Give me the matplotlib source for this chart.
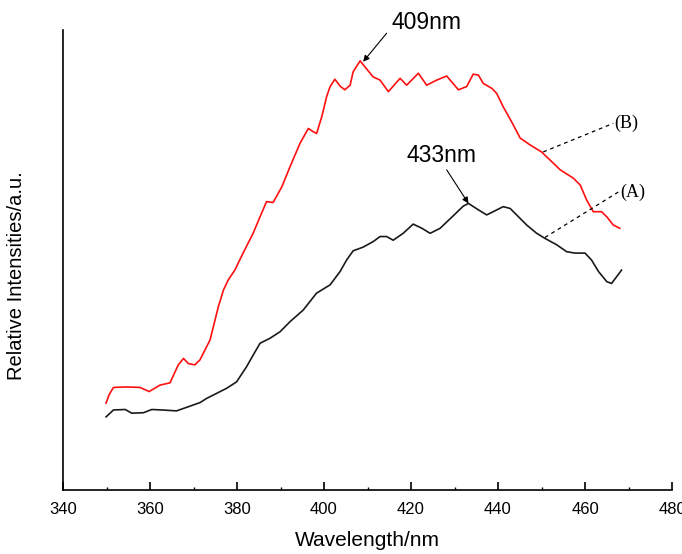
import matplotlib
matplotlib.use("Agg")
import matplotlib.pyplot as plt
from matplotlib.ticker import MultipleLocator

# curve (B), red - emission spectrum
wl_b = [349.9, 350.6, 351.6, 354.7, 357.7, 359.8, 362.3, 364.6, 366.5, 367.7,
        368.8, 370.3, 371.5, 372.6, 373.8, 375.7, 376.9, 378.0, 379.5, 381.4,
        383.7, 385.3, 386.8, 388.3, 390.3, 392.2, 394.5, 396.4, 397.5, 398.3,
        399.5, 400.6, 401.4, 402.5, 403.7, 404.8, 406.0, 406.7, 408.3, 409.4,
        411.3, 412.9, 414.8, 417.5, 419.0, 421.7, 423.6, 425.9, 428.2, 430.9,
        432.8, 434.3, 435.5, 436.6, 438.6, 439.7, 441.2, 443.1, 445.1, 447.4,
        450.0, 452.0, 454.3, 457.3, 458.9, 460.4, 461.9, 463.8, 465.0, 466.5,
        468.0]
int_b = [18.9, 20.7, 22.3, 22.4, 22.3, 21.4, 22.8, 23.3, 27.2, 28.6,
         27.5, 27.2, 28.3, 30.4, 32.6, 39.8, 43.5, 45.7, 47.8, 51.5,
         55.8, 59.4, 62.7, 62.5, 65.9, 70.3, 75.4, 78.6, 77.9, 77.5,
         81.2, 85.5, 87.7, 89.3, 87.8, 87.0, 88.0, 90.9, 93.3, 92.0,
         89.8, 89.1, 86.6, 89.5, 88.0, 90.6, 88.0, 89.1, 90.0, 87.0,
         87.7, 90.4, 90.2, 88.4, 87.3, 86.2, 83.3, 80.1, 76.5, 75.0,
         73.5, 71.7, 69.6, 67.8, 66.3, 63.0, 60.5, 60.5, 59.4, 57.6,
         56.9]

# curve (A), black
wl_a = [349.9, 351.6, 354.3, 355.8, 358.5, 360.4, 362.7, 366.1, 368.8, 371.5,
        373.0, 375.3, 377.6, 379.9, 382.2, 383.7, 385.3, 387.6, 389.9, 392.2,
        395.2, 398.3, 401.4, 403.7, 405.2, 406.7, 409.0, 411.3, 412.9, 414.4,
        415.9, 418.2, 420.5, 422.5, 424.4, 426.7, 429.7, 432.0, 433.2, 435.5,
        437.4, 438.9, 441.2, 442.8, 444.7, 446.6, 448.9, 450.8, 453.5, 455.8,
        457.7, 460.0, 461.5, 463.1, 465.0, 466.1, 467.3, 468.4]
int_a = [15.9, 17.4, 17.5, 16.7, 16.8, 17.5, 17.4, 17.2, 18.1, 19.0,
         19.9, 21.0, 22.1, 23.5, 26.8, 29.3, 31.9, 33.0, 34.4, 36.6,
         39.1, 42.8, 44.6, 47.5, 50.0, 52.0, 52.8, 54.0, 55.1, 55.1,
         54.3, 55.8, 57.8, 56.9, 55.8, 56.9, 59.6, 61.7, 62.3, 60.9,
         59.8, 60.5, 61.6, 61.2, 59.4, 57.6, 55.8, 54.7, 53.3, 51.8,
         51.5, 51.5, 50.0, 47.5, 45.3, 44.9, 46.4, 47.8]

# peak annotations: label, text pos, arrow tail, arrow head
peaks = [("409nm", (423.5, 101.7), (414.4, 99.3), (409.0, 93.1)),
         ("433nm", (426.9, 72.8), (428.2, 69.6), (433.2, 62.3))]
# curve tags: label, line start on curve, line end at label
tags = [("(B)", (450.4, 73.5), (466.5, 79.7)),
        ("(A)", (450.8, 54.9), (467.7, 64.8))]

plt.rcParams["font.family"] = ["Liberation Sans", "DejaVu Sans"]

fig = plt.figure(figsize=(6.82, 5.54), dpi=100)
ax = fig.add_axes([63 / 682, 64 / 554, 609 / 682, 460 / 554])

ax.plot(wl_b, int_b, color="#ff1010", lw=1.2)
ax.plot(wl_a, int_a, color="#1a1a1a", lw=1.2)

for label, txt, tail, head in peaks:
    ax.annotate("", xy=head, xytext=tail, annotation_clip=False,
                arrowprops=dict(arrowstyle="-|>", color="black", lw=0.8,
                                mutation_scale=9, shrinkA=0, shrinkB=0))
    ax.text(*txt, label, fontsize=16.5, ha="center", va="center", clip_on=False)

for label, start, end in tags:
    ax.plot([start[0], end[0]], [start[1], end[1]], color="black", lw=0.9,
            ls=(0, (3, 3)))
    ax.text(end[0] + 0.3, end[1], label, fontsize=13, family="Liberation Serif",
            ha="left", va="center")

ax.set_xlim(340, 480)
ax.set_ylim(0, 100)
ax.xaxis.set_major_locator(MultipleLocator(20))
ax.xaxis.set_minor_locator(MultipleLocator(10))
ax.tick_params(axis="x", which="major", direction="in", length=6, width=1.2,
               labelsize=12, pad=9)
ax.tick_params(axis="x", which="minor", direction="in", length=2, width=1.0)
ax.set_yticks([])

for side in ("top", "right"):
    ax.spines[side].set_visible(False)
for side in ("left", "bottom"):
    ax.spines[side].set_linewidth(1.2)

ax.set_xlabel("Wavelength/nm", fontsize=15, labelpad=10)
ax.set_ylabel("Relative Intensities/a.u.", fontsize=14.5)
ax.yaxis.set_label_coords(-0.06, 0.467)

fig.savefig("out.png", dpi=100)
